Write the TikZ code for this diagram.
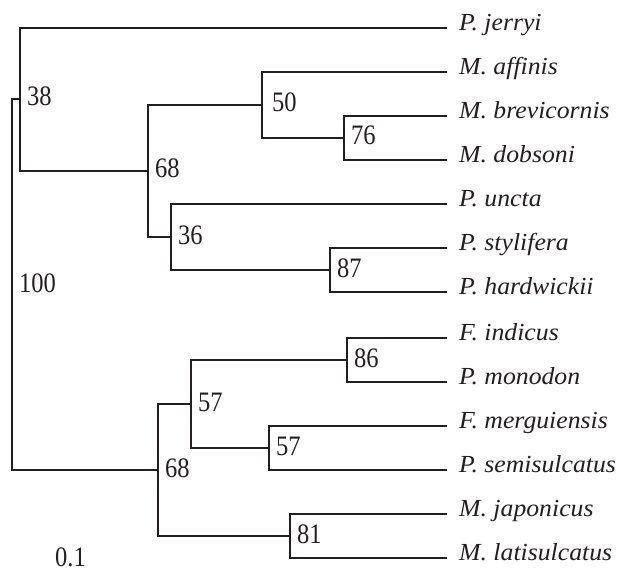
\documentclass[tikz,border=0pt]{standalone}
\usepackage{graphicx}
\usepackage{fontspec}
\setmainfont{Liberation Serif}
\definecolor{ink}{HTML}{231F20}
\newcommand{\spname}[1]{\scalebox{1.05}[1]{\itshape #1}}
\newcommand{\bsval}[1]{\scalebox{1}[1.15]{#1}}
\begin{document}
\begin{tikzpicture}[x=1bp,y=-1bp,
  branch/.style={draw=ink,line width=1.6bp},
  leaf/.style={anchor=west,inner xsep=12bp,inner ysep=0pt,text height=0.7em,text depth=0.25em,font=\fontsize{24.5bp}{29bp}\selectfont,text=ink},
  boot/.style={anchor=base west,inner sep=0pt,xshift=7bp,yshift=-7bp,font=\fontsize{24.5bp}{29bp}\selectfont,text=ink}]
\useasboundingbox (0,0) rectangle (622,572);
% internal nodes
\coordinate (R) at (12,285);
\coordinate (n38) at (20,99);
\coordinate (n68a) at (148,171);
\coordinate (n50) at (262,105);
\coordinate (n76) at (344,138);
\coordinate (n36) at (171,237);
\coordinate (n87) at (330,270);
\coordinate (n68b) at (158,470);
\coordinate (n57a) at (191,404);
\coordinate (n86) at (347,360);
\coordinate (n57b) at (269,448);
\coordinate (n81) at (290,536);
% leaves
\node[leaf] (l1) at (447,28) {\spname{P. jerryi}};
\node[leaf] (l2) at (447,72) {\spname{M. affinis}};
\node[leaf] (l3) at (447,116) {\spname{M. brevicornis}};
\node[leaf] (l4) at (447,160) {\spname{M. dobsoni}};
\node[leaf] (l5) at (447,204) {\spname{P. uncta}};
\node[leaf] (l6) at (447,248) {\spname{P. stylifera}};
\node[leaf] (l7) at (447,292) {\spname{P. hardwickii}};
\node[leaf] (l8) at (447,338) {\spname{F. indicus}};
\node[leaf] (l9) at (447,382) {\spname{P. monodon}};
\node[leaf] (l10) at (447,426) {\spname{F. merguiensis}};
\node[leaf] (l11) at (447,470) {\spname{P. semisulcatus}};
\node[leaf] (l12) at (447,514) {\spname{M. japonicus}};
\node[leaf] (l13) at (447,558) {\spname{M. latisulcatus}};
% branches
\draw[branch] (R) |- (n38);
\draw[branch] (R) |- (n68b);
\draw[branch] (n38) |- (l1.west);
\draw[branch] (n38) |- (n68a);
\draw[branch] (n68a) |- (n50);
\draw[branch] (n68a) |- (n36);
\draw[branch] (n50) |- (l2.west);
\draw[branch] (n50) |- (n76);
\draw[branch] (n76) |- (l3.west);
\draw[branch] (n76) |- (l4.west);
\draw[branch] (n36) |- (l5.west);
\draw[branch] (n36) |- (n87);
\draw[branch] (n87) |- (l6.west);
\draw[branch] (n87) |- (l7.west);
\draw[branch] (n68b) |- (n57a);
\draw[branch] (n68b) |- (n81);
\draw[branch] (n57a) |- (n86);
\draw[branch] (n57a) |- (n57b);
\draw[branch] (n86) |- (l8.west);
\draw[branch] (n86) |- (l9.west);
\draw[branch] (n57b) |- (l10.west);
\draw[branch] (n57b) |- (l11.west);
\draw[branch] (n81) |- (l12.west);
\draw[branch] (n81) |- (l13.west);
% bootstrap values
\node[boot] (b38) at (n38) {\bsval{38}};
\node[boot] (b68a) at (n68a) {\bsval{68}};
\node[boot,xshift=3bp] (b50) at (n50) {\bsval{50}};
\node[boot] (b76) at (n76) {\bsval{76}};
\node[boot] (b36) at (n36) {\bsval{36}};
\node[boot] (b87) at (n87) {\bsval{87}};
\node[boot] (b100) at (R) {\bsval{100}};
\node[boot] (b68b) at (n68b) {\bsval{68}};
\node[boot] (b57a) at (n57a) {\bsval{57}};
\node[boot] (b86) at (n86) {\bsval{86}};
\node[boot] (b57b) at (n57b) {\bsval{57}};
\node[boot] (b81) at (n81) {\bsval{81}};
\node[anchor=base west,inner sep=0pt,font=\fontsize{24.5bp}{29bp}\selectfont,text=ink] (scale) at (55,566) {\bsval{0.1}};
\end{tikzpicture}
\end{document}
